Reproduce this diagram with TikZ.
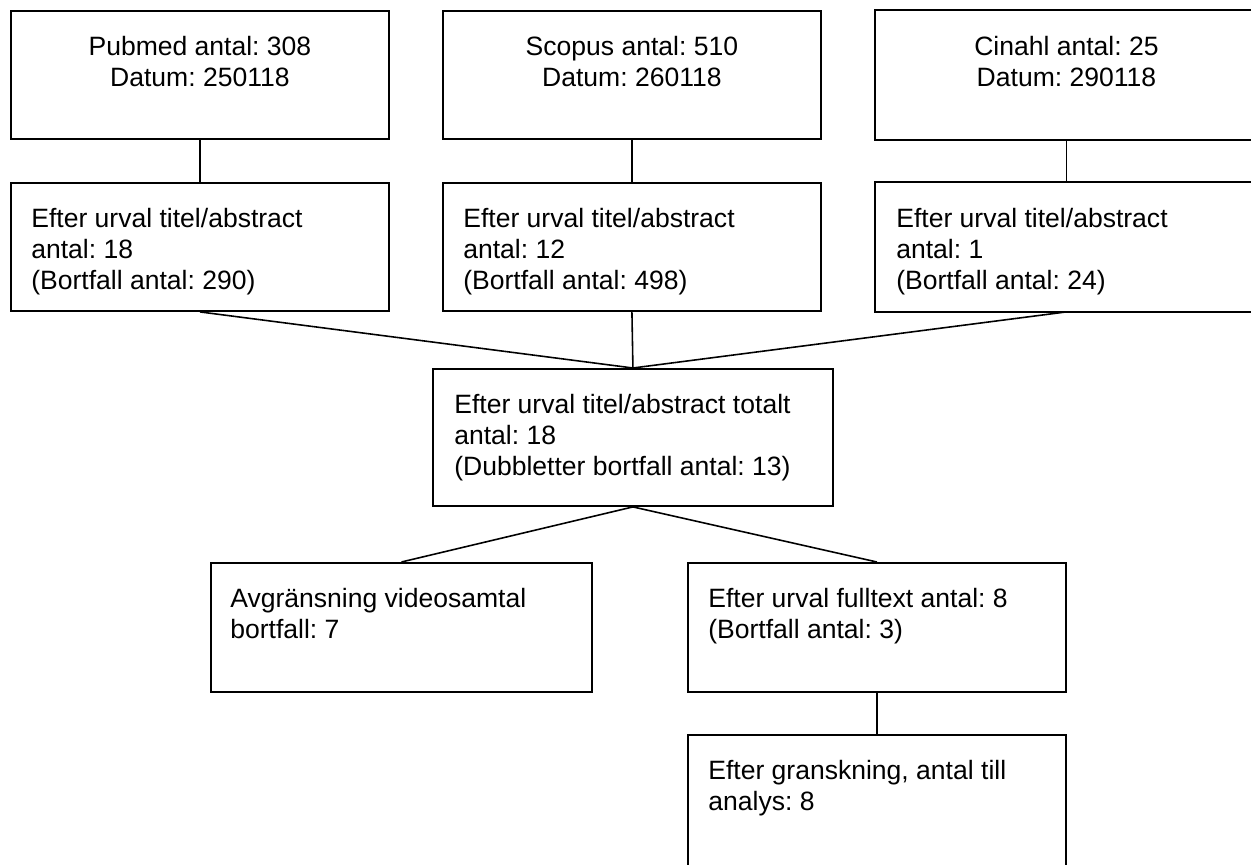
\documentclass[tikz,border=0pt]{standalone}
\usepackage{fontspec}
\setmainfont{Liberation Sans}
\usetikzlibrary{calc}
\frenchspacing

\begin{document}
\begin{tikzpicture}[
  x=0.02cm, y=-0.02cm,
  box/.style={draw, line width=1.1pt, anchor=north west, minimum width=7.56cm, minimum height=2.56cm, inner sep=0pt},
  cutbox/.style={box, draw=none, minimum width=7.62cm},
  txt/.style={inner sep=0pt, font=\fontsize{15.1}{17.6}\selectfont},
  link/.style={line width=0.9pt}
]
  \useasboundingbox (0, 0) rectangle (1251, 865);
  \coordinate (edge) at (1251, 0);

  % ----------------------------------------------------
  % ROW 1: Databases
  % ----------------------------------------------------
  \node[box] (pub) at (10, 10) {};
  \node[box] (sco) at (442, 10) {};
  \node[cutbox] (cin) at (875, 10) {};
  \draw[line width=1.1pt] (cin.north west -| edge) -- (cin.north west) -- (cin.south west) -- (cin.south west -| edge);
  \node[txt, anchor=north, align=center] (pubtxt) at ($(pub.north)+(0, 26)$) {Pubmed antal: 308\\Datum: 250118};
  \node[txt, anchor=north, align=center] (scotxt) at ($(sco.north)+(0, 26)$) {Scopus antal: 510\\Datum: 260118};
  \node[txt, anchor=north, align=center] (cintxt) at ($(cin.north)+(0, 26)$) {Cinahl antal: 25\\Datum: 290118};

  % ----------------------------------------------------
  % ROW 2: Title/abstract screening
  % ----------------------------------------------------
  \node[box] (pubsel) at (10, 182) {};
  \node[box] (scosel) at (442, 182) {};
  \node[cutbox] (cinsel) at (875, 182) {};
  \draw[line width=1.1pt] (cinsel.north west -| edge) -- (cinsel.north west) -- (cinsel.south west) -- (cinsel.south west -| edge);
  \node[txt, anchor=north west, align=left] (pubseltxt) at ($(pubsel.north west)+(21, 26)$) {Efter urval titel/abstract\\antal: 18\\(Bortfall antal: 290)};
  \node[txt, anchor=north west, align=left] (scoseltxt) at ($(scosel.north west)+(21, 26)$) {Efter urval titel/abstract\\antal: 12\\(Bortfall antal: 498)};
  \node[txt, anchor=north west, align=left] (cinseltxt) at ($(cinsel.north west)+(21, 26)$) {Efter urval titel/abstract\\antal: 1\\(Bortfall antal: 24)};

  % ----------------------------------------------------
  % ROW 3: Total after screening
  % ----------------------------------------------------
  \node[box, minimum width=8cm, minimum height=2.74cm] (tot) at (432, 368) {};
  \node[txt, anchor=north west, align=left] (tottxt) at ($(tot.north west)+(22, 26)$) {Efter urval titel/abstract totalt\\antal: 18\\(Dubbletter bortfall antal: 13)};

  % ----------------------------------------------------
  % ROW 4: Exclusion and full text
  % ----------------------------------------------------
  \node[box, minimum width=7.62cm, minimum height=2.58cm] (avg) at (210, 562) {};
  \node[box, minimum height=2.58cm] (full) at (687, 562) {};
  \node[txt, anchor=north west, align=left] (avgtxt) at ($(avg.north west)+(20, 26)$) {Avgränsning videosamtal\\bortfall: 7};
  \node[txt, anchor=north west, align=left] (fulltxt) at ($(full.north west)+(21, 26)$) {Efter urval fulltext antal: 8\\(Bortfall antal: 3)};

  % ----------------------------------------------------
  % ROW 5: Review (runs past the lower edge)
  % ----------------------------------------------------
  \node[box, minimum height=3.4cm] (gran) at (687, 734) {};
  \node[txt, anchor=north west, align=left] (grantxt) at ($(gran.north west)+(21, 26)$) {Efter granskning, antal till\\analys: 8};

  % Connectors
  \draw[link] (pub.south) -- (pubsel.north);
  \draw[link] (sco.south) -- (scosel.north);
  \draw[link] (cin.south) -- (cinsel.north);
  \draw[link] (pubsel.south) -- (tot.north);
  \draw[link] (scosel.south) -- (tot.north);
  \draw[link] (cinsel.south) -- (tot.north);
  \draw[link] (tot.south) -- (avg.north);
  \draw[link] (tot.south) -- (full.north);
  \draw[link] (full.south) -- (gran.north);

\end{tikzpicture}
\end{document}
